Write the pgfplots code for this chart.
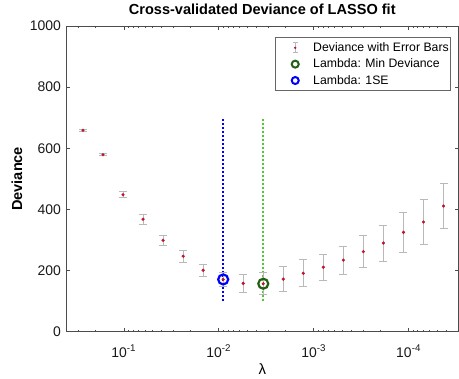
\documentclass[border=0pt]{standalone}
\usepackage{fontspec}
\setmainfont{Liberation Sans}
\usepackage{pgfplots}
\pgfplotsset{compat=1.18}
\usepackage{pgfplotstable}
\definecolor{dotred}{RGB}{190,20,45}
\definecolor{errgray}{RGB}{185,185,185}
\definecolor{mingreen}{RGB}{35,95,20}
\definecolor{lingreen}{RGB}{80,200,50}
\definecolor{seblue}{RGB}{0,0,255}
\pgfplotstableread{
l d e
0.2692 659 3
0.1656 579 3
0.1019 448 10
0.06266 368 16.5
0.03855 299 16
0.02371 247 19
0.01459 201 20
0.008974 171 22
0.005521 158 28
0.003396 157 36
0.002089 172 40
0.001285 191 44
0.0007907 211 43.5
0.0004864 234 45.5
0.0002992 262 53
0.0001841 290 58.5
0.0001132 325 66
0.00006966 359 74
0.00004285 411 74
}\cvdata
\begin{document}
\begin{tikzpicture}
\begin{axis}[
 scale only axis, width=392.5bp, height=305.7bp,
 xmode=log, x dir=reverse, xmin=2.98e-5, xmax=0.4064,
 ymin=0, ymax=1000, ytick={0,200,400,600,800,1000},
 xtick={1e-1,1e-2,1e-3,1e-4},
 xticklabels={10\textsuperscript{-1},10\textsuperscript{-2},10\textsuperscript{-3},10\textsuperscript{-4}},
 minor xtick={0.4,0.3,0.2,0.09,0.08,0.07,0.06,0.05,0.04,0.03,0.02,0.009,0.008,0.007,0.006,0.005,0.004,0.003,0.002,0.0009,0.0008,0.0007,0.0006,0.0005,0.0004,0.0003,0.0002,0.00009,0.00008,0.00007,0.00006,0.00005,0.00004,0.00003},
 tick align=inside, major tick length=4bp, minor tick length=2bp,
 axis line style={black!70, line width=0.6bp},
 tick style={black!70, line width=0.6bp},
 /pgf/number format/assume math mode=true,
 /pgf/number format/1000 sep={},
 ticklabel style={font=\fontsize{14}{16}\selectfont, text=black!90},
 xticklabel style={anchor=base, yshift=-25.3bp},
 yticklabel style={anchor=east, xshift=-1.5bp},
 title={Cross-validated Deviance of LASSO fit},
 title style={font=\bfseries\fontsize{14.6}{16}\selectfont, at={(axis description cs:0.5,1)}, anchor=base, yshift=5.3bp},
 ylabel={Deviance},
 ylabel style={font=\bfseries\fontsize{14.6}{16}\selectfont, at={(axis description cs:-0.1248,0.5)}, anchor=center},
 xlabel={λ},
 xlabel style={font=\fontsize{15}{17}\selectfont, at={(axis description cs:0.5,-0.1237)}, anchor=center},
 legend style={at={(0.981,0.963)}, anchor=north east, draw=black!60, line width=0.6bp,
   font=\fontsize{12.3}{14}\selectfont, row sep=2bp, inner xsep=0bp, inner ysep=3bp},
 legend cell align=left,
]
\addlegendimage{legend image code/.code={
  \path[draw=none] (0bp,0bp) -- (36bp,0bp);
  \draw[errgray, line width=0.8bp] (20bp,-5bp) -- (20bp,5bp);
  \draw[errgray, line width=0.8bp] (17.5bp,-5bp) -- (22.5bp,-5bp);
  \draw[errgray, line width=0.8bp] (17.5bp,5bp) -- (22.5bp,5bp);
  \pgfpathcircle{\pgfpoint{20bp}{0bp}}{1.3bp}\pgfsetfillcolor{dotred}\pgfusepath{fill};}}
\addlegendimage{legend image code/.code={
  \path[draw=none] (0bp,0bp) -- (36bp,0bp);
  \draw[mingreen, line width=2bp] (20bp,0bp) circle[radius=3.5bp];}}
\addlegendimage{legend image code/.code={
  \path[draw=none] (0bp,0bp) -- (36bp,0bp);
  \draw[seblue, line width=2bp] (20bp,0bp) circle[radius=3.5bp];}}
\legend{Deviance with Error Bars, Lambda: Min Deviance, Lambda: 1SE}

\addplot[forget plot, seblue, line width=2bp, dash pattern=on 2bp off 2bp] coordinates {(0.008974,100) (0.008974,700)};
\addplot[forget plot, lingreen, line width=2bp, dash pattern=on 2bp off 2bp] coordinates {(0.003396,100) (0.003396,700)};
\addplot[forget plot, only marks, mark=o, mark size=5bp, seblue, line width=2.2bp] coordinates {(0.008974,171)};
\addplot[forget plot, only marks, mark=o, mark size=5bp, mingreen, line width=2.2bp] coordinates {(0.003396,157)};
\addplot[forget plot, only marks, mark=*, mark size=1.4bp, dotred,
  error bars/.cd, y dir=both, y explicit,
  error bar style={errgray, line width=0.8bp},
  error mark options={rotate=90, mark size=4bp, errgray, line width=0.8bp}]
  table[x=l, y=d, y error=e] {\cvdata};
\end{axis}
\path (current axis.south west) ++(-66bp,-46.3bp) coordinate (BBA);
\path (current axis.north east) ++(0.5bp,26bp) coordinate (BBB);
\pgfresetboundingbox
\path[use as bounding box] (BBA) rectangle (BBB);
\end{tikzpicture}
\end{document}
